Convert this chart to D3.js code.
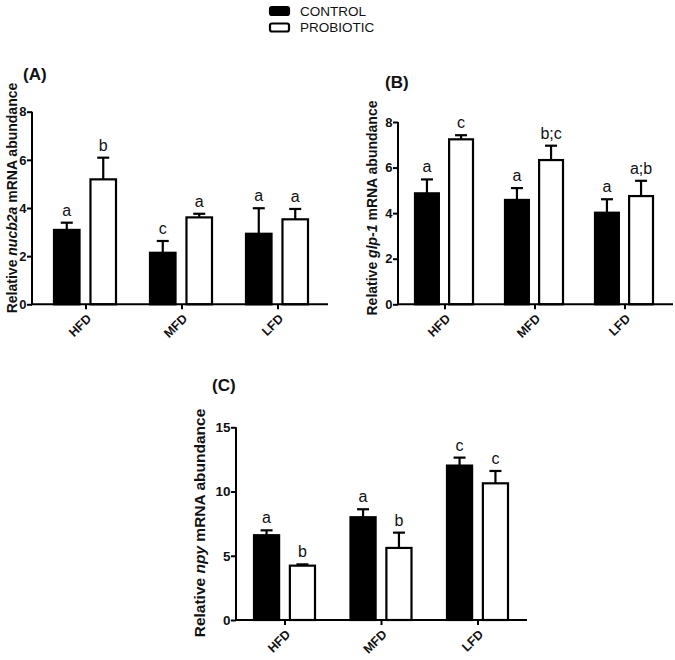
<!DOCTYPE html>
<html>
<head>
<meta charset="utf-8">
<script src="https://cdn.jsdelivr.net/npm/d3@7"></script>
<style>
  body { margin: 0; background: #fff; }
  svg { display: block; font-family: "Liberation Sans", Arial, sans-serif; }
</style>
</head>
<body>
<svg id="chart" width="675" height="660"></svg>
<script>
// ---- data ----
const categories = ["HFD", "MFD", "LFD"];
const series = ["CONTROL", "PROBIOTIC"];

const nucb2aMean = { CONTROL: [3.09, 2.14, 2.93], PROBIOTIC: [5.19, 3.61, 3.53] };
const nucb2aErr  = { CONTROL: [0.30, 0.49, 1.06], PROBIOTIC: [0.90, 0.15, 0.43] };
const nucb2aSig  = { CONTROL: ["a", "c", "a"], PROBIOTIC: ["b", "a", "a"] };

const glp1Mean = { CONTROL: [4.87, 4.58, 4.02], PROBIOTIC: [7.24, 6.33, 4.75] };
const glp1Err  = { CONTROL: [0.61, 0.52, 0.59], PROBIOTIC: [0.18, 0.63, 0.67] };
const glp1Sig  = { CONTROL: ["a", "a", "a"], PROBIOTIC: ["c", "b;c", "a;b"] };

const npyMean = { CONTROL: [6.60, 8.00, 12.02], PROBIOTIC: [4.23, 5.61, 10.64] };
const npyErr  = { CONTROL: [0.38, 0.62, 0.62], PROBIOTIC: [0.10, 1.19, 0.96] };
const npySig  = { CONTROL: ["a", "a", "c"], PROBIOTIC: ["b", "b", "c"] };

const yTicksA = [0, 2, 4, 6, 8];
const yTicksB = [0, 2, 4, 6, 8];
const yTicksC = [0, 5, 10, 15];

const svg = d3.select("#chart");
const fill = { CONTROL: "#000", PROBIOTIC: "#fff" };

function panel(o) {
  const g = svg.append("g");
  const y = d3.scaleLinear().domain(o.yDomain).range([o.y0, o.y1]);
  const xc = d3.scalePoint().domain(categories).range(o.xCenters);
  const xi = d3.scaleBand().domain(series).range(o.inner).paddingInner(0.3).paddingOuter(0);

  // axes
  const yAxis = d3.axisLeft(y).tickValues(o.yTicks).tickSize(5).tickPadding(0.5).tickFormat(d3.format("d"));
  const ya = g.append("g").attr("transform", `translate(${o.axisX},0)`).call(yAxis);
  ya.select(".domain").attr("d", `M0,${o.y0}V${o.y1}`);
  ya.selectAll("line, path").attr("stroke", "#000").attr("stroke-width", 2);
  ya.selectAll("text").attr("font-size", o.tickSize).attr("font-weight", "bold").attr("fill", "#111")
    .attr("font-family", "'Liberation Sans', Arial, sans-serif");

  // bars
  series.forEach(s => {
    categories.forEach((c, i) => {
      const m = o.mean[s][i], e = o.err[s][i];
      const bx = xc(c) + xi(s), bw = xi.bandwidth();
      const cx = bx + bw / 2;
      // error bar (up only)
      g.append("line").attr("x1", cx).attr("x2", cx).attr("y1", y(m)).attr("y2", y(m + e))
        .attr("stroke", "#000").attr("stroke-width", 2.2);
      g.append("line").attr("x1", cx - 6).attr("x2", cx + 6).attr("y1", y(m + e)).attr("y2", y(m + e))
        .attr("stroke", "#000").attr("stroke-width", 2.2);
      g.append("rect").attr("x", bx).attr("y", y(m)).attr("width", bw).attr("height", y(0) - y(m))
        .attr("fill", fill[s]).attr("stroke", "#000").attr("stroke-width", 2.2);
      g.append("text").attr("x", cx).attr("y", y(m + e) - 7).attr("text-anchor", "middle")
        .attr("font-size", 16).attr("fill", "#111").text(o.sig[s][i]);
    });
  });

  // x axis
  const xa = g.append("g").attr("transform", `translate(0,${o.y0})`);
  xa.append("line").attr("x1", o.axisX - 1).attr("x2", o.axisEnd).attr("stroke", "#000").attr("stroke-width", 2);
  categories.forEach(c => {
    xa.append("line").attr("x1", xc(c)).attr("x2", xc(c)).attr("y1", 0).attr("y2", 5)
      .attr("stroke", "#000").attr("stroke-width", 2);
    xa.append("text").attr("transform", `translate(${xc(c) + 3},${12}) rotate(-45)`)
      .attr("text-anchor", "end").attr("dy", "0.35em").attr("font-size", 12.5).attr("font-weight", "bold")
      .attr("fill", "#111").text(c);
  });

  // y label
  const lab = g.append("text").attr("transform", `translate(${o.labelX},${o.labelY}) rotate(-90)`)
    .attr("text-anchor", "middle").attr("font-size", o.labelSize).attr("font-weight", "bold").attr("fill", "#111");
  lab.append("tspan").text("Relative ");
  lab.append("tspan").attr("font-style", "italic").text(o.gene);
  lab.append("tspan").text(" mRNA abundance");

  // panel letter
  g.append("text").attr("x", o.titleX).attr("y", o.titleY).attr("font-size", 17).attr("font-weight", "bold")
    .attr("fill", "#111").text(o.title);
}

panel({ mean: nucb2aMean, err: nucb2aErr, sig: nucb2aSig, yDomain: [0, 8], yTicks: yTicksA,
  y0: 304.3, y1: 111.7, axisX: 32, axisEnd: 328, xCenters: [86, 278], inner: [-32, 30],
  tickSize: 13, labelSize: 14,
  gene: "nucb2a", labelX: 16.5, labelY: 198, title: "(A)", titleX: 23, titleY: 80 });

panel({ mean: glp1Mean, err: glp1Err, sig: glp1Sig, yDomain: [0, 8], yTicks: yTicksB,
  y0: 304.3, y1: 122, axisX: 398, axisEnd: 673, xCenters: [445, 625], inner: [-30, 28],
  tickSize: 13, labelSize: 14,
  gene: "glp-1", labelX: 377, labelY: 208, title: "(B)", titleX: 385, titleY: 88 });

panel({ mean: npyMean, err: npyErr, sig: npySig, yDomain: [0, 15], yTicks: yTicksC,
  y0: 620, y1: 427.3, axisX: 236, axisEnd: 527, xCenters: [285, 478], inner: [-31, 30],
  tickSize: 13.5, labelSize: 15.5,
  gene: "npy", labelX: 205, labelY: 523, title: "(C)", titleX: 212, titleY: 391 });

// legend
const leg = svg.append("g");
series.forEach((s, i) => {
  leg.append("rect").attr("x", 270).attr("y", 7 + i * 16.5).attr("width", 19).attr("height", 8).attr("rx", 2)
    .attr("fill", fill[s]).attr("stroke", "#000").attr("stroke-width", 2.2);
  leg.append("text").attr("x", 300).attr("y", 15.5 + i * 16.5).attr("font-size", 13.5).attr("fill", "#111").text(s);
});
</script>
</body>
</html>
